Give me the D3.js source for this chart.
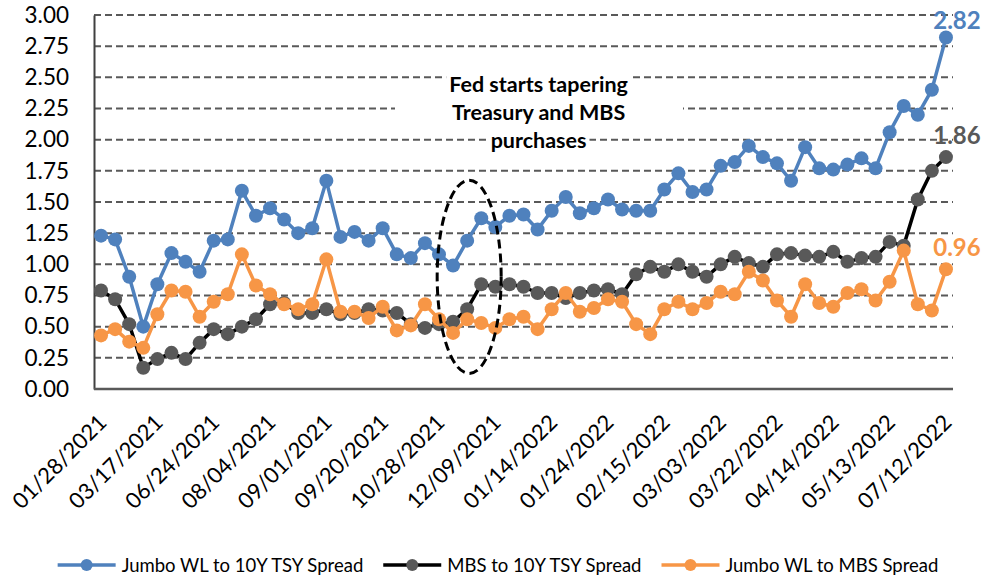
<!DOCTYPE html>
<html>
<head>
<meta charset="utf-8">
<script src="https://cdn.jsdelivr.net/npm/d3@7"></script>
<style>
  body { margin: 0; background: #fff; }
  text { font-family: Lato, "Noto Sans", sans-serif; }
</style>
</head>
<body>
<div id="chart"></div>
<script>
// spreads, weekly-ish observations (61 points, every 4th one labelled)
var jumboTsy = [1.23, 1.20, 0.90, 0.50, 0.84, 1.09, 1.02, 0.94, 1.19, 1.20,
  1.59, 1.39, 1.45, 1.36, 1.25, 1.29, 1.67, 1.22, 1.26, 1.19,
  1.29, 1.08, 1.05, 1.17, 1.08, 0.99, 1.19, 1.37, 1.30, 1.39,
  1.40, 1.28, 1.43, 1.54, 1.41, 1.45, 1.52, 1.44, 1.43, 1.43,
  1.60, 1.73, 1.58, 1.60, 1.79, 1.82, 1.95, 1.86, 1.81, 1.67,
  1.94, 1.77, 1.76, 1.80, 1.85, 1.77, 2.06, 2.27, 2.20, 2.40,
  2.82];
var mbsTsy = [0.79, 0.72, 0.52, 0.17, 0.24, 0.29, 0.24, 0.37, 0.48, 0.44,
  0.50, 0.56, 0.68, 0.69, 0.61, 0.61, 0.64, 0.60, 0.61, 0.64,
  0.63, 0.61, 0.52, 0.49, 0.52, 0.54, 0.64, 0.84, 0.82, 0.84,
  0.82, 0.77, 0.77, 0.73, 0.77, 0.79, 0.80, 0.76, 0.92, 0.98,
  0.94, 1.00, 0.94, 0.90, 1.00, 1.06, 1.01, 0.98, 1.08, 1.09,
  1.07, 1.06, 1.10, 1.02, 1.05, 1.06, 1.18, 1.15, 1.52, 1.75,
  1.86];
var jumboMbs = [0.43, 0.48, 0.38, 0.33, 0.60, 0.79, 0.78, 0.58, 0.70, 0.76,
  1.08, 0.83, 0.76, 0.68, 0.64, 0.68, 1.04, 0.62, 0.62, 0.57,
  0.66, 0.47, 0.51, 0.68, 0.56, 0.45, 0.56, 0.53, 0.49, 0.56,
  0.58, 0.48, 0.64, 0.77, 0.62, 0.65, 0.72, 0.70, 0.52, 0.44,
  0.64, 0.70, 0.64, 0.69, 0.78, 0.76, 0.94, 0.87, 0.71, 0.58,
  0.84, 0.69, 0.66, 0.77, 0.80, 0.71, 0.86, 1.11, 0.68, 0.63,
  0.96];
var tickLabels = ["01/28/2021", "03/17/2021", "06/24/2021", "08/04/2021",
  "09/01/2021", "09/20/2021", "10/28/2021", "12/09/2021", "01/14/2022",
  "01/24/2022", "02/15/2022", "03/03/2022", "03/22/2022", "04/14/2022",
  "05/13/2022", "07/12/2022"];
var tickEvery = 4;
var yTicks = [0, 0.25, 0.5, 0.75, 1, 1.25, 1.5, 1.75, 2, 2.25, 2.5, 2.75, 3];

var seriesNames = ["Jumbo WL to 10Y TSY Spread", "MBS to 10Y TSY Spread", "Jumbo WL to MBS Spread"];
var seriesValues = [jumboTsy, mbsTsy, jumboMbs];
var lineColors = ["#4F81BD", "#000000", "#F79646"];
var dotColors = ["#4F81BD", "#595959", "#F79646"];

var width = 999, height = 578;
var plotLeft = 94, plotRight = 953, plotTop = 15, plotBottom = 389;

var svg = d3.select("#chart").append("svg")
  .attr("width", width)
  .attr("height", height)
  .style("background-color", "#fff");

var idx = d3.range(jumboTsy.length);
var x = d3.scalePoint().domain(idx).range([plotLeft, plotRight]).padding(0.5);
var y = d3.scaleLinear().domain([0, 3]).range([plotBottom, plotTop]);

// dashed grid
svg.selectAll(".grid")
  .data(yTicks.filter(function(d) { return d > 0; }))
  .enter().append("line")
  .attr("x1", plotLeft).attr("x2", plotRight)
  .attr("y1", function(d) { return y(d); })
  .attr("y2", function(d) { return y(d); })
  .attr("stroke", "#595959")
  .attr("stroke-width", 2)
  .attr("stroke-dasharray", "7,4");

// y axis
var yAxis = svg.append("g")
  .attr("transform", "translate(" + plotLeft + ",0)")
  .call(d3.axisLeft(y).tickValues(yTicks).tickFormat(d3.format(".2f")).tickSize(0).tickPadding(25));
yAxis.select(".domain").attr("stroke", "#404040").attr("stroke-width", 2);
yAxis.selectAll("text").attr("font-size", 22.5).attr("fill", "#000").attr("font-family", "Lato");

// x axis line
svg.append("line")
  .attr("x1", plotLeft).attr("x2", plotRight)
  .attr("y1", plotBottom).attr("y2", plotBottom)
  .attr("stroke", "#595959")
  .attr("stroke-width", 2.5);

svg.selectAll(".xlab")
  .data(tickLabels)
  .enter().append("text")
  .attr("transform", function(d, i) { return "translate(" + (x(i * tickEvery) + 7) + ",424) rotate(-45)"; })
  .attr("text-anchor", "end")
  .attr("font-size", 22)
  .text(function(d) { return d; });

// annotation text box
var annX = x(31) + 1;
var annLines = ["Fed starts tapering", "Treasury and MBS", "purchases"];
svg.append("rect")
  .attr("x", 395).attr("y", 96)
  .attr("width", 288).attr("height", 34)
  .attr("fill", "#fff");
var annG = svg.append("g");
annLines.forEach(function(t, i) {
  var txt = annG.append("text")
    .attr("x", annX)
    .attr("y", 92 + i * 28)
    .attr("text-anchor", "middle")
    .attr("font-weight", "bold")
    .attr("font-size", 21.5)
    .text(t);
  var bb = txt.node().getBBox();
  annG.insert("rect", "text")
    .attr("x", bb.x - 3).attr("y", bb.y + 2)
    .attr("width", bb.width + 6).attr("height", bb.height - 4)
    .attr("fill", "#fff");
});

// series
var line = d3.line()
  .x(function(d, i) { return x(i); })
  .y(function(d) { return y(d); });

seriesValues.forEach(function(vals, s) {
  svg.append("path")
    .datum(vals)
    .attr("d", line)
    .attr("fill", "none")
    .attr("stroke", lineColors[s])
    .attr("stroke-width", 3.5)
    .attr("stroke-linejoin", "round");
  svg.selectAll(".dot" + s)
    .data(vals)
    .enter().append("circle")
    .attr("cx", function(d, i) { return x(i); })
    .attr("cy", function(d) { return y(d); })
    .attr("r", 7)
    .attr("fill", dotColors[s]);

  var last = vals.length - 1;
  svg.append("text")
    .attr("x", x(last) + 11)
    .attr("y", Math.max(y(vals[last]) - 13, 29))
    .attr("text-anchor", "middle")
    .attr("font-weight", "bold")
    .attr("font-size", 24)
    .attr("fill", dotColors[s])
    .text(d3.format(".2f")(vals[last]));
});

// dashed ellipse around the tapering start
svg.append("ellipse")
  .attr("cx", x(26) + 2)
  .attr("cy", y(0.9))
  .attr("rx", 32)
  .attr("ry", y(0) - y(0.775))
  .attr("fill", "none")
  .attr("stroke", "#000")
  .attr("stroke-width", 3)
  .attr("stroke-dasharray", "9,5");

// legend
var legend = svg.append("g");
var lx = 0;
seriesNames.forEach(function(name, s) {
  var g = legend.append("g").attr("transform", "translate(" + lx + ",0)");
  g.append("line")
    .attr("x1", 0).attr("x2", 58)
    .attr("y1", 0).attr("y2", 0)
    .attr("stroke", lineColors[s])
    .attr("stroke-width", 3.5);
  g.append("circle")
    .attr("cx", 29).attr("cy", 0).attr("r", 6)
    .attr("fill", dotColors[s]);
  var t = g.append("text")
    .attr("x", 64).attr("y", 7)
    .attr("font-size", 18.5)
    .text(name);
  lx += 64 + t.node().getComputedTextLength() + 20;
});
var legW = lx - 20;
legend.attr("transform", "translate(" + (498 - legW / 2) + ",565)");
</script>
</body>
</html>
